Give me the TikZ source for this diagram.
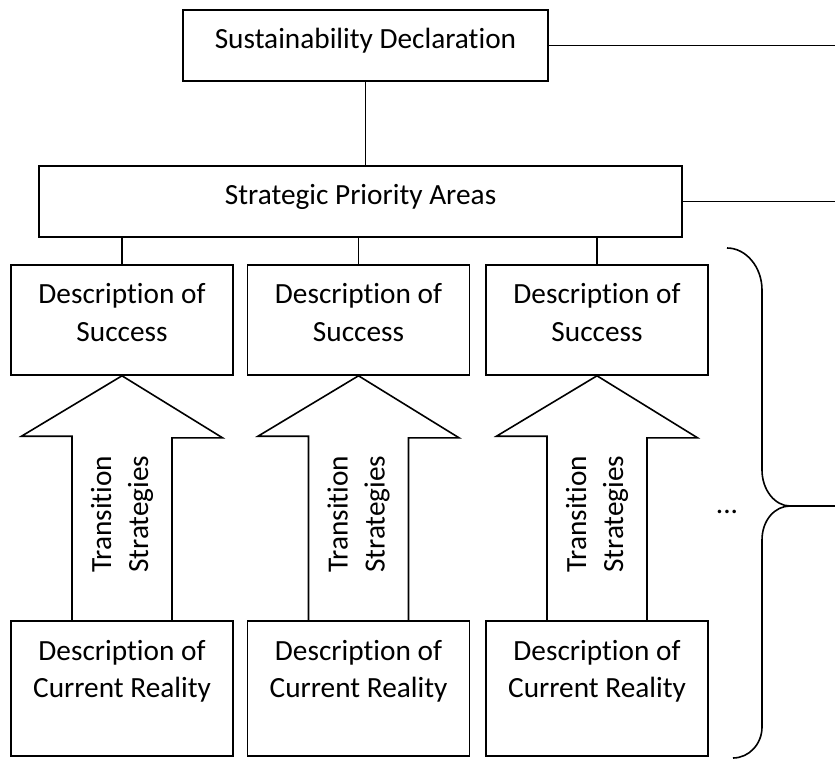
\documentclass[tikz,border=0pt]{standalone}
\usepackage{fontspec}
\setmainfont{Carlito}[Ligatures={NoCommon,NoContextual,NoRequired}]
\usetikzlibrary{calc}

\newcommand{\boxtext}[3]{\parbox[c][#2][t]{#1}{\centering\rule{0pt}{39pt}#3}}

\begin{document}
\begin{tikzpicture}[x=1pt, y=-1pt, line width=1.6pt,
    font=\fontsize{29.3}{37}\selectfont,
    framebox/.style={draw, inner sep=0pt},
    transarrow/.style={line join=miter}]
    \useasboundingbox (0,0) rectangle (835,759);
    \coordinate (edge) at (835,0);

    % Declaration and priority areas
    \node[framebox] (decl) at (365.5,45.5) {\boxtext{365pt}{71pt}{Sustainability Declaration}};
    \node[framebox] (spa) at (360.5,201.5) {\boxtext{643pt}{71pt}{Strategic Priority Areas}};
    \draw (decl.south) -- (decl.south |- spa.north);
    \draw (decl.east) -- (decl.east -| edge);
    \draw (spa.east) -- (spa.east -| edge);

    % Columns: success, current reality, transition arrow
    \foreach \i/\x in {1/122, 2/358.5, 3/597} {
      \node[framebox] (s\i) at (\x,320) {\boxtext{222pt}{110pt}{Description of\\Success}};
      \node[framebox] (c\i) at (\x,688.5) {\boxtext{222pt}{135pt}{Description of\\Current Reality}};
      \draw (s\i.north) -- (s\i.north |- spa.south);
      \draw[transarrow] ($(c\i.north)+(-50,0)$) -- ++(0,-184) -- ++(-50.5,0) -- (s\i.south)
        -- ++(100.5,62) -- ++(-50.5,0) -- ($(c\i.north)+(50,0)$);
      \node[rotate=90, align=center, xshift=-4pt] (t\i) at ($(s\i.south)!0.55!(c\i.north)$) {Transition\\Strategies};
    }

    % Brace
    \coordinate (tip) at (790,506);
    \draw (727,248) .. controls (746,248) and (762,267) .. (762,290) -- (762,470)
      .. controls (762,490) and (775,506) .. (tip)
      .. controls (775,506) and (762,520) .. (762,540) -- (762,727)
      .. controls (762,744) and (749,758) .. (733,758);
    \draw (tip) -- (tip -| edge);
    \node (more) at (727,512) {...};
\end{tikzpicture}
\end{document}
